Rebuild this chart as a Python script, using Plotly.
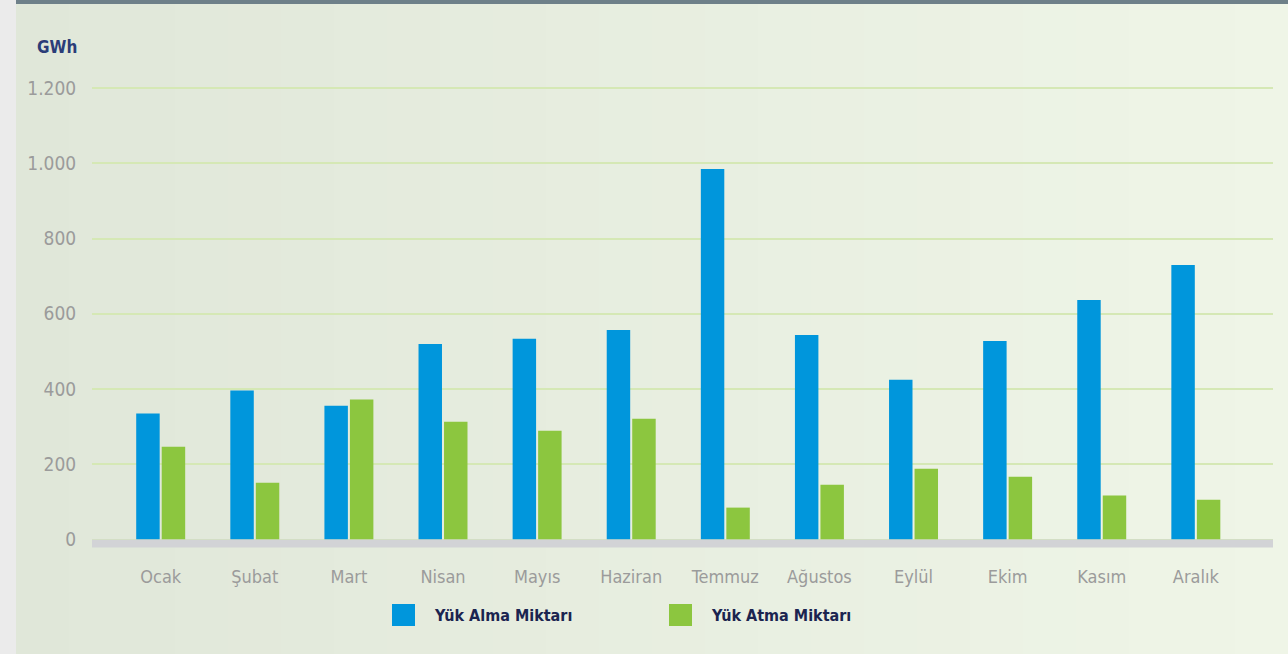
import plotly.graph_objects as go

months = ["Ocak", "Şubat", "Mart", "Nisan", "Mayıs", "Haziran", "Temmuz",
          "Ağustos", "Eylül", "Ekim", "Kasım", "Aralık"]
yuk_alma = [335, 396, 356, 520, 534, 557, 985, 544, 425, 528, 637, 730]
yuk_atma = [247, 151, 372, 313, 289, 321, 85, 146, 188, 167, 117, 106]
series_names = ["Yük Alma Miktarı", "Yük Atma Miktarı"]
y_ticks = [0, 200, 400, 600, 800, 1000, 1200]
unit_label = "GWh"

BLUE = "#0096dc"
GREEN = "#8cc63f"
FONT = "DejaVu Sans Condensed, Liberation Sans Narrow, Roboto, sans-serif"

W, H = 1288, 654
L, R, T, B = 92, 15, 73, 105
PW, PH = W - L - R, H - T - B


def px2x(px):
    return (px - L) / PW


def py2y(py):
    return (H - B - py) / PH


fig = go.Figure()
fig.add_trace(go.Bar(x=months, y=yuk_alma, name=series_names[0],
                     marker=dict(color=BLUE, line=dict(width=0)), showlegend=False))
fig.add_trace(go.Bar(x=months, y=yuk_atma, name=series_names[1],
                     marker=dict(color=GREEN, line=dict(width=0)), showlegend=False))

shapes = []
# background gradient stripes
c0 = (224, 231, 217)
c1 = (239, 245, 231)
n = 24
x_start = 16
for i in range(n):
    f = i / (n - 1)
    col = tuple(int(round(c0[k] + (c1[k] - c0[k]) * f)) for k in range(3))
    xa = x_start + (W - x_start) * i / n
    xb = x_start + (W - x_start) * (i + 1) / n + 1
    shapes.append(dict(type="rect", xref="paper", yref="paper",
                       x0=px2x(xa), x1=px2x(xb), y0=py2y(H), y1=py2y(0),
                       fillcolor="rgb(%d,%d,%d)" % col, line=dict(width=0), layer="below"))
# top bar
shapes.append(dict(type="rect", xref="paper", yref="paper",
                   x0=px2x(16), x1=px2x(W), y0=py2y(4), y1=py2y(0),
                   fillcolor="#6e8089", line=dict(width=0), layer="above"))
# baseline bar
shapes.append(dict(type="rect", xref="paper", yref="y",
                   x0=0, x1=1, y0=-21, y1=0,
                   fillcolor="#d2d3d6", line=dict(width=0), layer="above"))

# manual legend
legend_items = [(392, BLUE, series_names[0]), (669, GREEN, series_names[1])]
annotations = []
for lx, col, name in legend_items:
    shapes.append(dict(type="rect", xref="paper", yref="paper",
                       x0=px2x(lx), x1=px2x(lx + 23), y0=py2y(626), y1=py2y(604),
                       fillcolor=col, line=dict(width=0), layer="above"))
    annotations.append(dict(xref="paper", yref="paper", x=px2x(lx + 40), y=py2y(615),
                            xanchor="left", yanchor="middle", showarrow=False,
                            text="<b>%s</b>" % name,
                            font=dict(family=FONT, size=16, color="#1b2450")))

annotations.append(dict(xref="paper", yref="paper", x=px2x(35), y=py2y(47),
                        xanchor="left", yanchor="middle", showarrow=False,
                        text="<b>%s</b>" % unit_label,
                        font=dict(family=FONT, size=17, color="#2b3d78")))

fig.update_layout(
    width=W, height=H,
    margin=dict(l=L, r=R, t=T, b=B, pad=0),
    paper_bgcolor="#ebebeb",
    plot_bgcolor="rgba(0,0,0,0)",
    barmode="group",
    bargap=0.458,
    bargroupgap=0.08,
    separators=",.",
    shapes=shapes,
    annotations=annotations,
    showlegend=False,
    xaxis=dict(range=[-0.73, 11.82], showgrid=False, zeroline=False, showline=False,
               ticks="outside", ticklen=11, tickcolor="rgba(0,0,0,0)",
               tickfont=dict(family=FONT, size=18, color="#9b9b9b")),
    yaxis=dict(range=[-25, 1240], tickvals=y_ticks, showgrid=True,
               gridcolor="#d5e8b5", gridwidth=2, zeroline=False, showline=False,
               ticks="outside", ticklen=11, tickcolor="rgba(0,0,0,0)",
               tickformat=",d",
               tickfont=dict(family=FONT, size=19, color="#9b9b9b")),
)

fig.write_html("out.html", post_script="document.body.style.margin='0px';",
               config={"displayModeBar": False})
